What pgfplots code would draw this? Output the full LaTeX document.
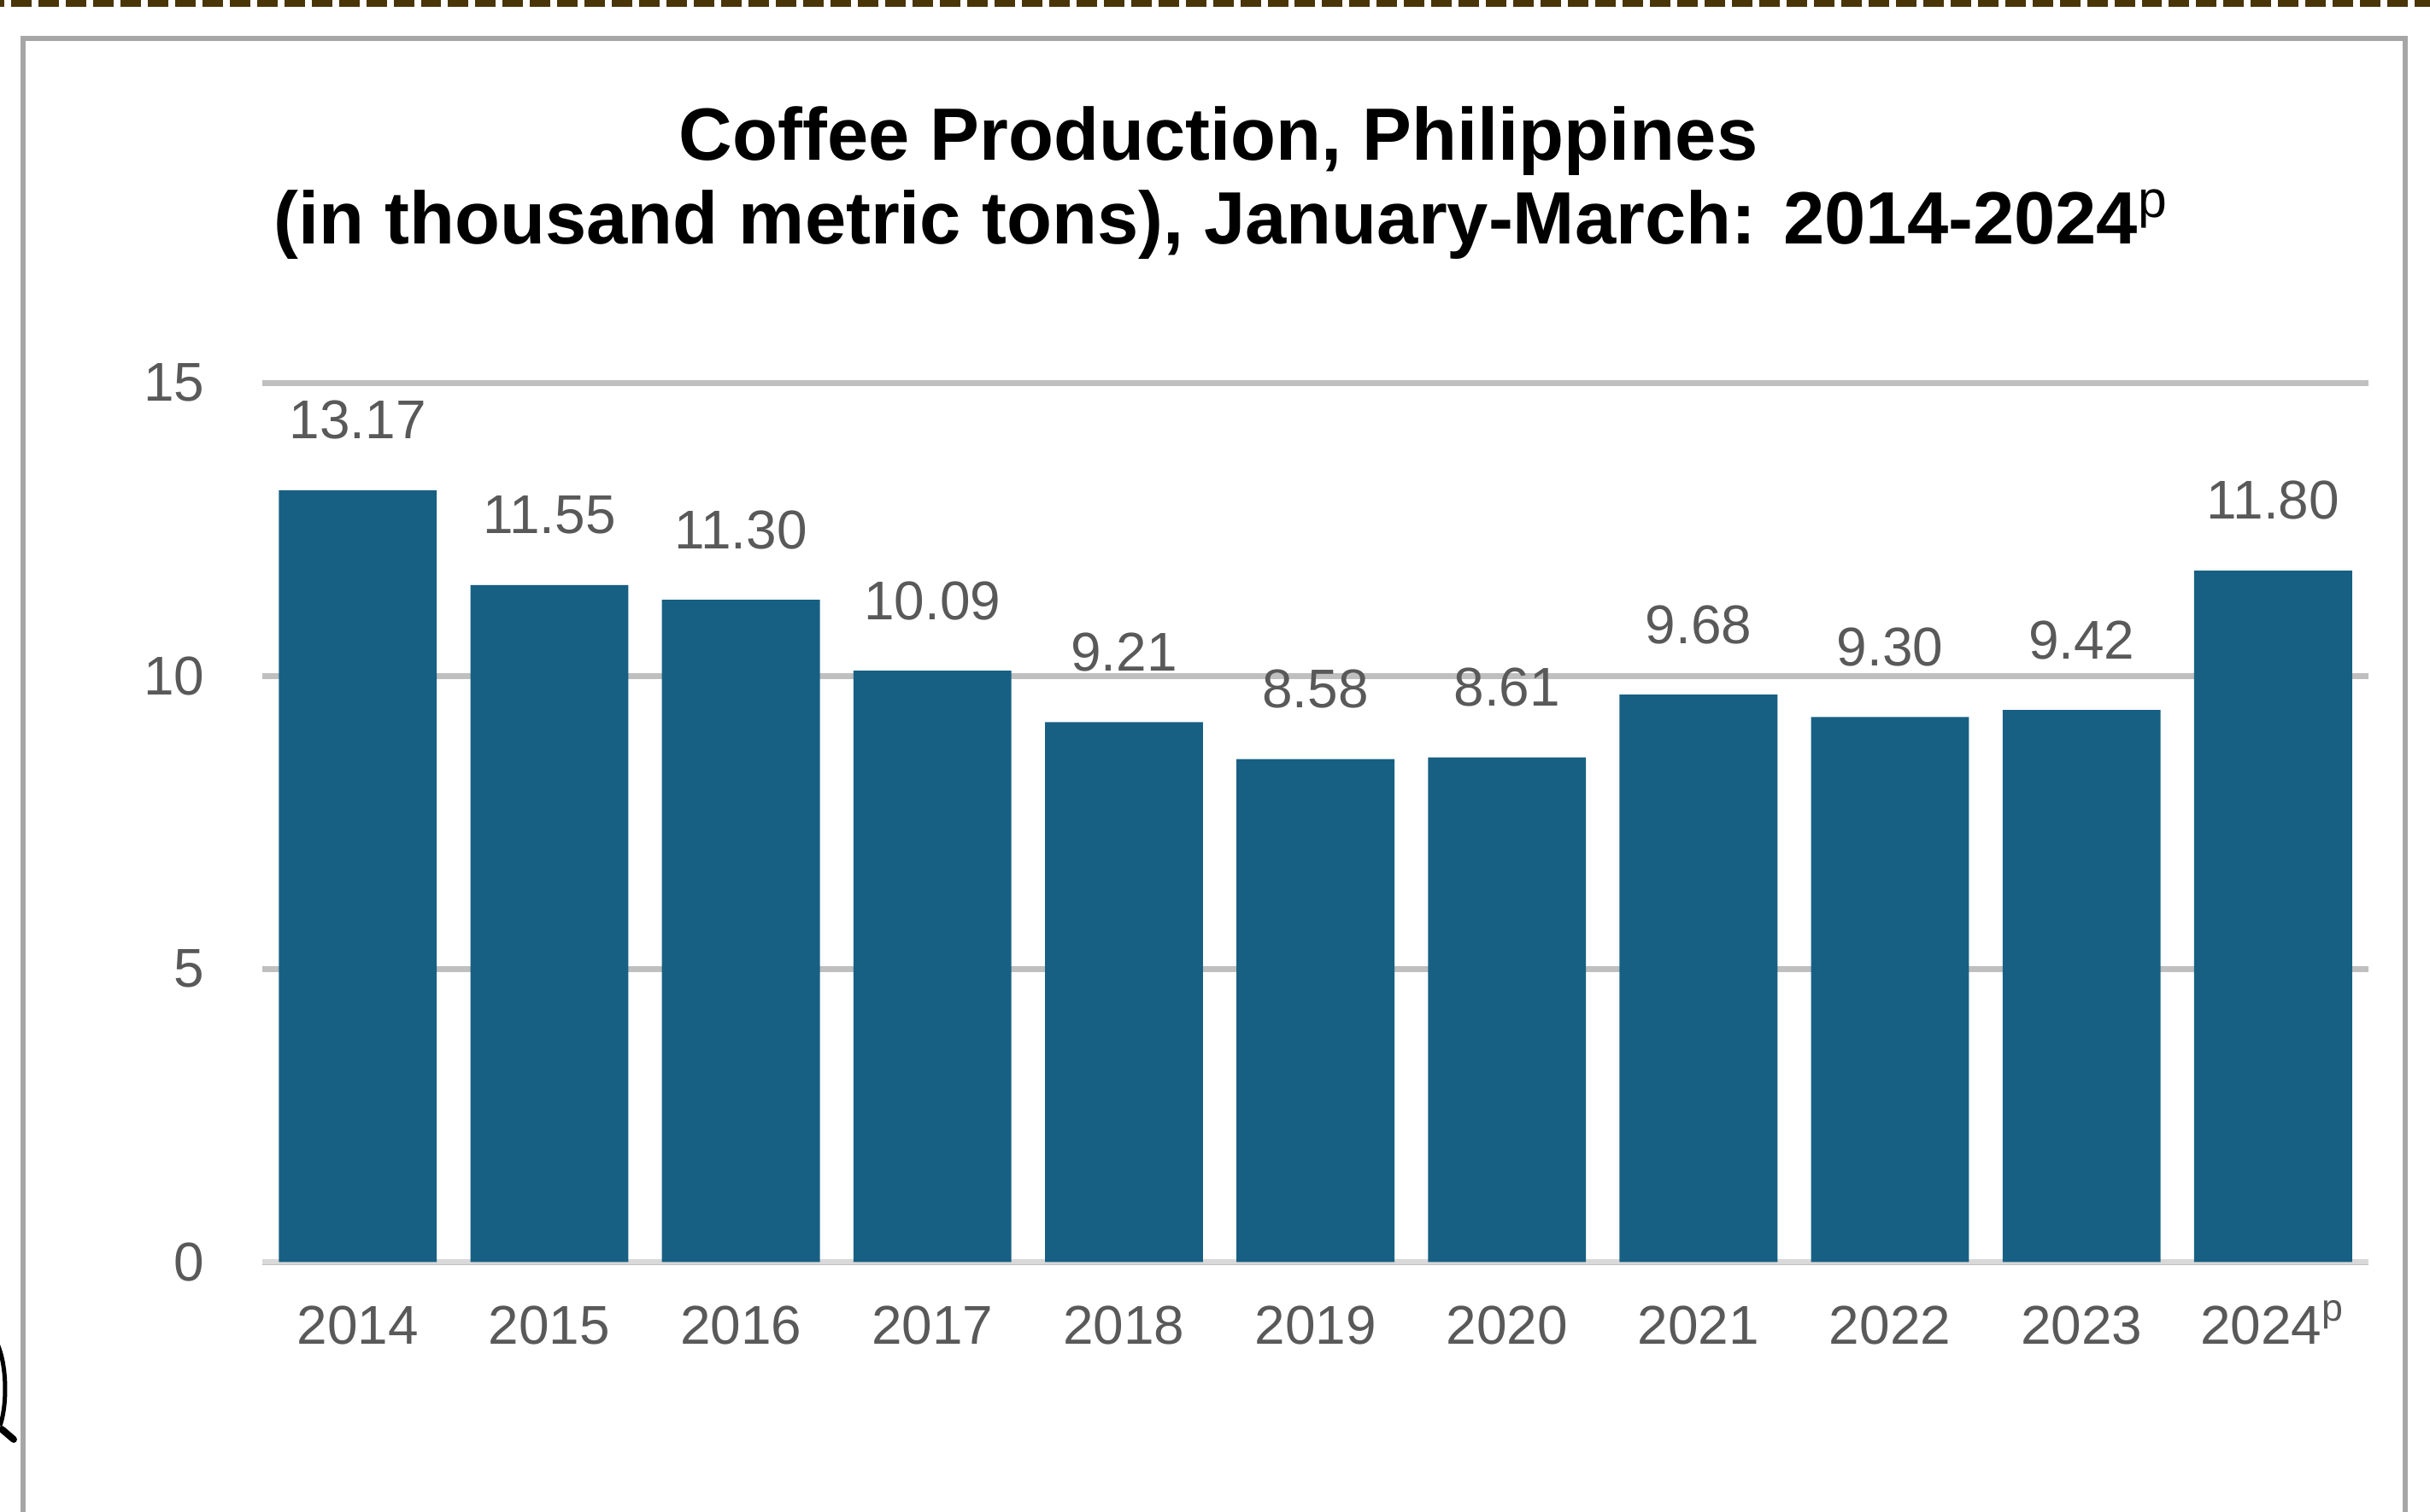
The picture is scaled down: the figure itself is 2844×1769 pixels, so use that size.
\documentclass[border=0pt]{standalone}
\usepackage{pgfplots}
\pgfplotsset{compat=1.18}
\usepackage{pgfplotstable}
\usepackage{fontspec}
\setmainfont{Liberation Sans}

\definecolor{BarBlue}{HTML}{176083}
\definecolor{TickGray}{HTML}{595959}
\definecolor{GridGray}{HTML}{BFBFBF}
\definecolor{AxisGray}{HTML}{D9D9D9}
\definecolor{FrameGray}{HTML}{A6A6A6}
\definecolor{DashBrown}{HTML}{4A3508}

\newcommand\lblfont{\fontsize{9.1}{11}\selectfont}
\newcommand\ttlfont{\fontsize{12.35}{14}\selectfont\bfseries}

% Jan-Mar coffee production, thousand metric tons
\pgfplotstableread{
x  y
0  13.17
1  11.55
2  11.30
3  10.09
4  9.21
5  8.58
6  8.61
7  9.68
8  9.30
9  9.42
10 11.80
}\coffee

\begin{document}
\begin{tikzpicture}[x=0.005cm,y=0.005cm]
\useasboundingbox (0,0) rectangle (2844,1769);
\begin{scope}
  \clip (0,0) rectangle (2844,1769);
  % dashed rule at the top of the page
  \draw[DashBrown, line width=0.04cm, dash pattern=on 0.12cm off 0.04cm, dash phase=0.095cm]
    (0,1765) -- (2844,1765);
  % chart frame (bottom cut off)
  \draw[FrameGray, line width=0.03cm] (27,-30) -- (27,1724.5) -- (2815,1724.5) -- (2815,-30);
  % stray mark at the left edge
  \draw[black, line width=0.025cm] (-8,205) .. controls (9,180) and (9,125) .. (0,100);
  \draw[black, line width=0.04cm, line cap=round] (2,96) -- (16,84);
\end{scope}

\node[anchor=base, font=\ttlfont] at (1426,1582) {Coffee Production, Philippines};
\node[anchor=base, font=\ttlfont] at (1430,1484)
  {(in thousand metric tons), January-March: 2014-2024\textsuperscript{\mdseries p}};

\begin{axis}[
    at={(1.535cm,1.46cm)}, anchor=south west,
    scale only axis,
    width=12.34cm, height=5.15cm,
    xmin=-0.5, xmax=10.5,
    ymin=0, ymax=15,
    ytick={0,5,10,15},
    xtick={0,...,10},
    xticklabels={2014,2015,2016,2017,2018,2019,2020,2021,2022,2023,2024\textsuperscript{p}},
    axis x line*=bottom,
    axis y line*=left,
    x axis line style={draw=AxisGray, line width=0.03cm},
    y axis line style={draw=none},
    major tick length=0pt,
    ymajorgrids,
    grid style={draw=GridGray, line width=0.033cm},
    /pgf/number format/assume math mode=true,
    yticklabel style={font=\lblfont, color=TickGray, anchor=east, inner sep=0pt, xshift=-0.33cm},
    xticklabel style={font=\lblfont, color=TickGray, anchor=base, inner sep=0pt, yshift=-0.48cm},
    clip=false,
]
\addplot[ybar, bar width=0.925cm, bar shift=0pt, fill=BarBlue, draw=none,
    nodes near coords,
    nodes near coords style={/pgf/number format/.cd, fixed, fixed zerofill, precision=2,
        assume math mode=true, /tikz/.cd,
        font=\lblfont, color=TickGray, anchor=base, inner sep=0pt, yshift=0.3cm},
  ] table[x=x, y=y] {\coffee};
\end{axis}
\end{tikzpicture}
\end{document}
